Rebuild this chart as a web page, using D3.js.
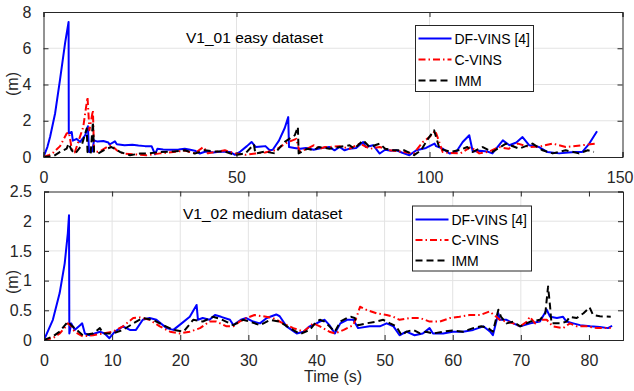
<!DOCTYPE html>
<html>
<head>
<meta charset="utf-8">
<script src="https://cdn.jsdelivr.net/npm/d3@7"></script>
<style>
  body { margin: 0; background: #fff; }
  svg { display: block; }
</style>
</head>
<body>
<div id="chart"></div>
<script>
// ---- data (time in s, error in m) ----
const seriesNames = ["DF-VINS [4]", "C-VINS", "IMM"]

const topXTicks = [0, 50, 100, 150]
const topYTicks = [0, 2, 4, 6, 8]
const botXTicks = [0, 10, 20, 30, 40, 50, 60, 70, 80]
const botYTicks = [0, 0.5, 1, 1.5, 2, 2.5]

const topDf = [[0,0],[1,0.55],[1.7,1.1],[3,2.4],[4.3,4.3],[5.6,6.3],[6.5,7.45],[6.55,1.3],[7.3,1.38],[7.6,0.9],[8.6,1.0],[9.5,0.83],[10.8,1.2],[11.5,1.7],[11.8,0.28],[12.6,0.3],[13.1,0.92],[14,0.85],[15.5,0.88],[16.8,0.8],[17.1,0.69],[18.5,0.86],[19,0.7],[21,0.65],[23,0.68],[24.6,0.63],[26.3,0.6],[28,0.6],[28.9,0.15],[29.5,0.45],[31,0.42],[33,0.4],[35,0.42],[36.6,0.46],[38,0.4],[39.2,0.35],[40.5,0.19],[42,0.3],[44,0.25],[46,0.3],[48.3,0.28],[49.6,0.12],[51,0.3],[52.7,0.6],[53.9,0.83],[55,0.55],[56.5,0.58],[57.5,0.6],[58.6,0.37],[59.4,0.4],[61,0.9],[62.5,1.6],[63.4,2.2],[63.6,0.55],[65,0.5],[66.5,0.45],[68,0.5],[70,0.4],[72,0.5],[74.1,0.55],[75.4,0.37],[76.7,0.55],[78,0.37],[79.3,0.46],[81,0.5],[82.8,0.83],[83.5,0.55],[85.4,0.65],[87.1,0.19],[88.5,0.4],[90,0.35],[91.5,0.37],[92.8,0.25],[94.8,0.1],[96.6,0.37],[99.1,0.5],[101.3,0.74],[101.7,0.6],[103.4,0.46],[105.2,0.19],[106.9,0.28],[108.6,0.83],[110.3,1.2],[111.2,0.3],[113,0.35],[115,0.3],[116.3,0.2],[119,0.92],[120.7,0.65],[122.5,0.8],[124.1,1.1],[125.8,0.65],[128.4,0.55],[130.5,0.28],[133.6,0.2],[136,0.25],[137.9,0.28],[139.6,0.28],[141.4,0.74],[143.4,1.42]]

const topC = [[0,0],[1.5,0.12],[2.6,0.25],[4.3,0.6],[6,1.3],[6.6,1.35],[7.3,0.46],[8.1,0.25],[9,0.83],[10.3,1.66],[11.4,3.3],[11.9,1.47],[12.8,2.58],[13.1,0.28],[14.5,0.3],[16.4,0.55],[17.6,0.65],[19,0.37],[20.7,0.19],[23.3,0.15],[26.7,0.1],[30.2,0.2],[33.6,0.28],[36.6,0.35],[39.2,0.2],[41.4,0.55],[42.6,0.2],[44.4,0.28],[47,0.37],[49.6,0.2],[52.3,0.12],[54.9,0.19],[57.4,0.25],[60,0.37],[62.6,0.74],[64.5,0.92],[65.5,1.0],[66.3,0.3],[68.4,0.46],[70.1,0.65],[71.5,0.45],[73,0.55],[74.1,0.55],[76.7,0.6],[79.3,0.46],[82,0.74],[84.5,0.45],[87.1,0.55],[89.8,0.37],[93.2,0.28],[95.9,0.19],[98.3,0.83],[100,1.1],[101.5,1.45],[103.4,0.28],[105,0.22],[108,0.2],[110.7,0.55],[112.9,0.2],[115.5,0.3],[118,0.55],[120.5,0.45],[122.9,0.74],[126,0.55],[129,0.6],[131.9,0.74],[135.3,0.55],[139.6,0.65],[143.1,0.74]]

const topImm = [[0,0],[2.6,0.05],[4.3,0.28],[6,0.46],[6.5,0.74],[7.3,0.37],[8.2,0.19],[9.9,0.65],[11.2,1.57],[11.4,0.28],[12.2,0.15],[12.8,1.93],[13.1,0.28],[14.1,0.19],[16.4,0.46],[17.6,0.55],[19.8,0.28],[22.4,0.1],[25,0.19],[27.5,0.2],[30.2,0.28],[33.6,0.3],[36.6,0.37],[39.2,0.19],[41.8,0.37],[44.4,0.3],[47,0.3],[49.6,0.1],[52.3,0.2],[54.5,0.7],[54.9,0.19],[57.3,0.3],[59.9,0.2],[62.5,0.83],[65.1,1.2],[65.9,1.66],[66.1,0.2],[68.4,0.46],[70,0.37],[71.3,0.55],[74.1,0.46],[76.7,0.55],[79.3,0.65],[80.5,0.46],[82.8,0.92],[84.5,0.55],[87.1,0.74],[88.5,0.46],[90.7,0.37],[93.5,0.37],[96,0.1],[97.8,0.37],[99.6,1.0],[101.2,1.47],[102.6,0.46],[105.5,0.28],[108,0.4],[109.8,0.55],[111.2,0.28],[113.8,0.55],[116.3,0.28],[119.8,0.74],[123.2,0.46],[126.7,0.74],[129.3,0.37],[131.9,0.2],[135.3,0.37],[138.7,0.2],[141,0.37],[142.6,0.28]]

const botDf = [[0,0],[1.3,0.34],[2.3,0.79],[3.04,1.29],[3.5,1.8],[3.67,2.1],[3.72,0.11],[4,0.28],[4.5,0.17],[5.3,0.25],[5.6,0.28],[6,0.11],[6.7,0.08],[8.2,0.14],[8.9,0.11],[9.6,0.03],[10.4,0.14],[11.6,0.23],[12.6,0.17],[13.5,0.17],[14.5,0.34],[15.5,0.37],[16.5,0.34],[18,0.2],[19,0.17],[20.2,0.28],[21.4,0.39],[22.4,0.59],[22.6,0.34],[23.3,0.37],[24.3,0.34],[25.1,0.42],[26,0.39],[27.3,0.34],[27.8,0.25],[28.9,0.34],[29.7,0.37],[30.7,0.31],[31.7,0.28],[32.7,0.37],[34.1,0.43],[34.6,0.4],[35.6,0.23],[37.1,0.11],[38.1,0.14],[39,0.23],[40,0.28],[40.5,0.31],[41.2,0.34],[41.9,0.25],[42.7,0.11],[43.5,0.28],[44.5,0.34],[45.4,0.34],[46.1,0.2],[47.8,0.23],[49.3,0.23],[50.3,0.28],[51.3,0.23],[52.2,0.08],[53.2,0.14],[54.4,0.08],[55.6,0.11],[56.6,0.2],[57.1,0.11],[58.6,0.11],[60,0.14],[61.5,0.14],[63,0.17],[64.5,0.23],[65.5,0.14],[65.9,0.08],[66.7,0.45],[66.9,0.34],[67.9,0.34],[68.9,0.28],[69.9,0.23],[71.4,0.28],[72.8,0.31],[73.8,0.51],[74.3,0.39],[75.3,0.37],[76.2,0.39],[76.7,0.31],[77.7,0.28],[78.7,0.25],[80.2,0.23],[81.6,0.22],[82.8,0.2],[83.4,0.24]]

const botC = [[0,0],[1.3,0.03],[2.3,0.11],[3,0.2],[3.5,0.28],[4,0.23],[4.5,0.14],[5.7,0.06],[7.2,0.08],[8.7,0.11],[10.1,0.14],[11.6,0.23],[13.1,0.37],[14.1,0.38],[15.5,0.34],[17,0.23],[18.5,0.14],[19.9,0.11],[21.4,0.14],[22.9,0.2],[24.3,0.31],[25.3,0.31],[26.8,0.23],[27.8,0.23],[28.7,0.31],[29.7,0.37],[30.9,0.42],[32.1,0.4],[33.6,0.37],[35.1,0.28],[36.6,0.2],[38.1,0.14],[39.5,0.28],[40.5,0.23],[41.9,0.14],[42.7,0.11],[44,0.17],[45.4,0.25],[45.9,0.39],[46.4,0.56],[47.3,0.51],[48.8,0.45],[50.3,0.42],[51.3,0.39],[52.2,0.34],[53.7,0.37],[55.2,0.37],[56.6,0.31],[58.1,0.31],[59.6,0.37],[61,0.39],[62.5,0.42],[64,0.42],[65.4,0.48],[66.4,0.39],[66.9,0.34],[67.9,0.31],[68.9,0.28],[69.9,0.23],[70.9,0.31],[71.3,0.39],[72.1,0.28],[72.8,0.34],[73.8,0.34],[74.7,0.23],[76.2,0.2],[77.2,0.28],[78.2,0.23],[79.7,0.23],[81.2,0.2],[83.2,0.2]]

const botImm = [[0,0],[1.3,0.06],[2.3,0.14],[3.5,0.31],[4,0.25],[4.8,0.17],[5.7,0.08],[7.2,0.11],[8.2,0.2],[8.7,0.11],[10.1,0.11],[11.6,0.17],[13.1,0.28],[14.5,0.37],[16,0.34],[17.5,0.25],[19,0.17],[20.5,0.14],[21.9,0.34],[23.3,0.31],[24.8,0.39],[26,0.35],[27.3,0.28],[27.8,0.25],[29.2,0.34],[30.2,0.31],[31.7,0.25],[33.2,0.34],[34.6,0.31],[36.1,0.2],[37.6,0.1],[39,0.17],[40,0.31],[40.5,0.34],[41.2,0.31],[41.9,0.23],[42.7,0.14],[43.5,0.31],[44.5,0.37],[45.1,0.39],[45.6,0.37],[46.1,0.25],[47.3,0.28],[48.8,0.31],[49.8,0.34],[50.8,0.28],[51.7,0.23],[52.5,0.08],[53.2,0.14],[54.2,0.17],[55.2,0.11],[56.1,0.14],[57.1,0.11],[58.6,0.14],[60,0.16],[61.5,0.14],[63,0.2],[64.2,0.23],[65.2,0.2],[65.9,0.14],[66.7,0.51],[67.1,0.39],[67.9,0.28],[68.9,0.31],[69.9,0.23],[71.4,0.31],[72.8,0.34],[73.6,0.45],[74,0.9],[74.3,0.56],[74.5,0.28],[75.8,0.28],[76.7,0.31],[77.2,0.39],[78.2,0.37],[79.2,0.45],[80.1,0.55],[80.6,0.42],[81.6,0.4],[83.2,0.39]]

// ---- styling ----
const axisColor = "#262626"
const gridColor = "#e3e3e3"
const styles = [
    {color: "#0000ff", dash: null},
    {color: "#ff0000", dash: "7,3,1.5,3"},
    {color: "#000000", dash: "7,4"}
]
const font = "'Liberation Sans', Arial, Helvetica, sans-serif"

const width = 634, height = 391
const svg = d3.select("#chart").append("svg")
    .attr("width", width)
    .attr("height", height)
    .attr("font-family", font)

function drawPanel(cfg) {
    const x = d3.scaleLinear().domain(cfg.xDomain).range([cfg.left, cfg.right])
    const y = d3.scaleLinear().domain(cfg.yDomain).range([cfg.bottom, cfg.top])
    const g = svg.append("g")
    const tickLen = 5

    // grid
    g.append("g").selectAll("line.gx")
        .data(cfg.xTicks.slice(1, -1))
        .join("line")
        .attr("x1", d => x(d)).attr("x2", d => x(d))
        .attr("y1", cfg.top).attr("y2", cfg.bottom)
        .attr("stroke", gridColor).attr("stroke-width", 1)
    g.append("g").selectAll("line.gy")
        .data(cfg.yTicks.slice(1, -1))
        .join("line")
        .attr("x1", cfg.left).attr("x2", cfg.right)
        .attr("y1", d => y(d)).attr("y2", d => y(d))
        .attr("stroke", gridColor).attr("stroke-width", 1)

    // clip for the data lines
    const clipId = "clip" + cfg.id
    svg.append("clipPath").attr("id", clipId)
        .append("rect")
        .attr("x", cfg.left).attr("y", cfg.top)
        .attr("width", cfg.right - cfg.left).attr("height", cfg.bottom - cfg.top)

    const line = d3.line().x(d => x(d[0])).y(d => y(d[1]))
    g.append("g").attr("clip-path", `url(#${clipId})`)
        .selectAll("path")
        .data(cfg.series)
        .join("path")
        .attr("d", d => line(d))
        .attr("fill", "none")
        .attr("stroke", (d, i) => styles[i].color)
        .attr("stroke-width", 2)
        .attr("stroke-dasharray", (d, i) => styles[i].dash)
        .attr("stroke-linejoin", "round")

    // axes with inward ticks, box on
    const xb = g.append("g").attr("transform", `translate(0,${cfg.bottom})`)
        .call(d3.axisBottom(x).tickValues(cfg.xTicks).tickSize(-tickLen).tickPadding(10 + tickLen).tickFormat(d3.format("")))
    const xt = g.append("g").attr("transform", `translate(0,${cfg.top})`)
        .call(d3.axisTop(x).tickValues(cfg.xTicks).tickSize(-tickLen).tickFormat(""))
    const yl = g.append("g").attr("transform", `translate(${cfg.left},0)`)
        .call(d3.axisLeft(y).tickValues(cfg.yTicks).tickSize(-tickLen).tickPadding(7 + tickLen).tickFormat(d3.format("")))
    const yr = g.append("g").attr("transform", `translate(${cfg.right},0)`)
        .call(d3.axisRight(y).tickValues(cfg.yTicks).tickSize(-tickLen).tickFormat(""))
    ;[xb, xt, yl, yr].forEach(a => {
        a.select(".domain").attr("stroke", axisColor).attr("stroke-width", 1)
        a.selectAll(".tick line").attr("stroke", axisColor)
        a.selectAll(".tick text").attr("fill", axisColor)
            .attr("font-size", 16).attr("font-family", font)
    })
    xb.selectAll(".tick text").attr("dy", "0.71em")
    // keep the last x label inside the window
    xb.selectAll(".tick text").filter(d => d === cfg.xTicks[cfg.xTicks.length - 1] && x(d) > 610)
        .attr("text-anchor", "end").attr("x", width - 1 - cfg.right)

    // in-plot title
    g.append("text")
        .attr("x", cfg.titleX).attr("y", cfg.titleY)
        .attr("font-size", 15.5)
        .attr("fill", "#000")
        .text(cfg.title)

    // y label
    g.append("text")
        .attr("transform", `translate(${cfg.ylabelX},${cfg.ylabelY}) rotate(-90)`)
        .attr("text-anchor", "middle")
        .attr("font-size", 16)
        .attr("fill", axisColor)
        .text("(m)")

    // legend
    const lg = g.append("g").attr("transform", `translate(${cfg.legend.x},${cfg.legend.y})`)
    lg.append("rect")
        .attr("width", cfg.legend.w).attr("height", cfg.legend.h)
        .attr("fill", "#fff").attr("stroke", axisColor).attr("stroke-width", 1)
    const rows = lg.selectAll("g.row")
        .data(seriesNames)
        .join("g")
        .attr("transform", (d, i) => `translate(0,${cfg.legend.row0 + i * cfg.legend.step})`)
    rows.append("line")
        .attr("x1", 3).attr("x2", 36)
        .attr("stroke", (d, i) => styles[i].color)
        .attr("stroke-width", 2)
        .attr("stroke-dasharray", (d, i) => styles[i].dash)
    rows.append("text")
        .attr("x", 39).attr("y", 5)
        .attr("font-size", 14)
        .attr("fill", "#000")
        .text(d => d)
}

drawPanel({
    id: "top",
    left: 43.5, right: 622.5, top: 12, bottom: 157,
    xDomain: [0, 150], yDomain: [0, 8],
    xTicks: topXTicks, yTicks: topYTicks,
    series: [topDf, topC, topImm],
    title: "V1_01 easy dataset", titleX: 186, titleY: 43,
    ylabelX: 18, ylabelY: 84,
    legend: {x: 415.5, y: 25.5, w: 118, h: 66, row0: 13, step: 21}
})

drawPanel({
    id: "bot",
    left: 44, right: 623, top: 191.5, bottom: 340,
    xDomain: [0, 85], yDomain: [0, 2.5],
    xTicks: botXTicks, yTicks: botYTicks,
    series: [botDf, botC, botImm],
    title: "V1_02 medium dataset", titleX: 183, titleY: 219,
    ylabelX: 18, ylabelY: 282,
    legend: {x: 412.5, y: 206, w: 119, h: 65, row0: 13.5, step: 20.5}
})

svg.append("text")
    .attr("x", 333).attr("y", 382)
    .attr("text-anchor", "middle")
    .attr("font-size", 16)
    .attr("fill", axisColor)
    .text("Time (s)")
</script>
</body>
</html>
